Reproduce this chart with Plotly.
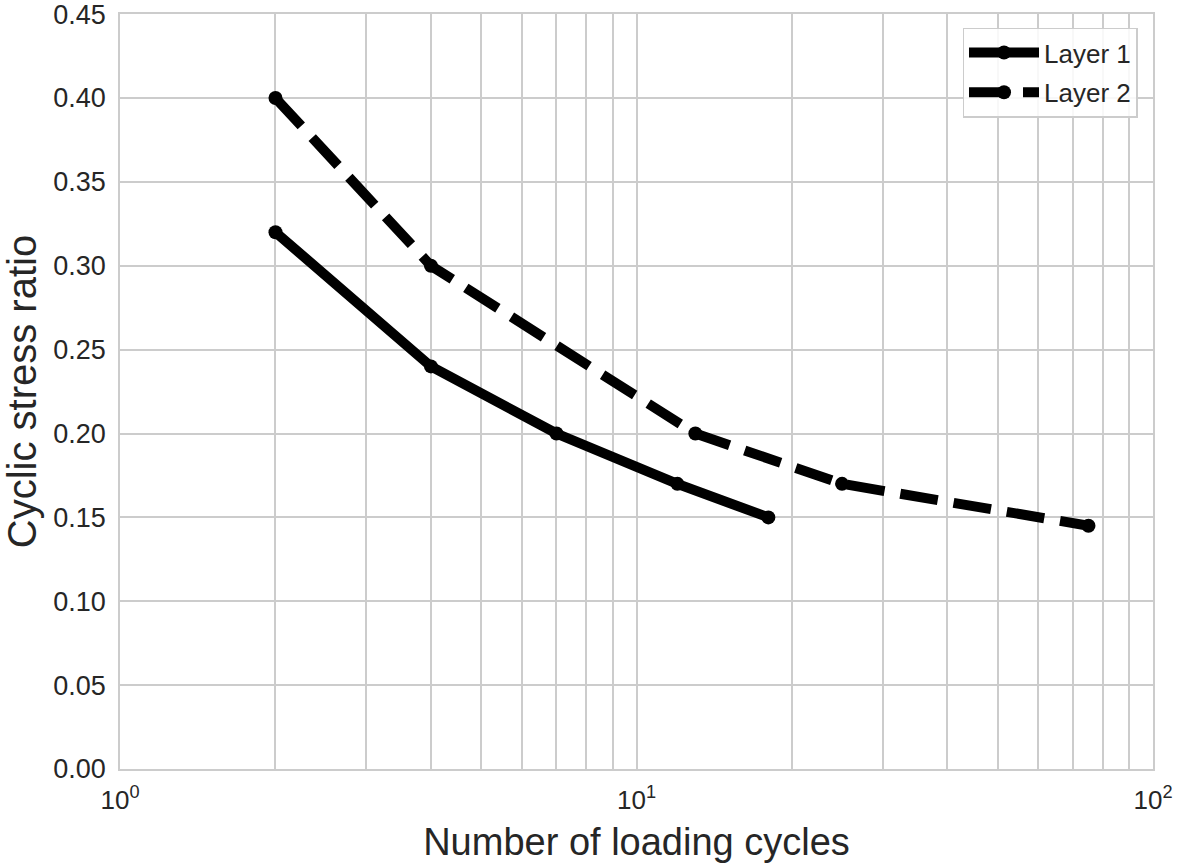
import plotly.graph_objects as go

layer1_cycles = [2, 4, 7, 12, 18]
layer1_csr = [0.32, 0.24, 0.20, 0.17, 0.15]
layer2_cycles = [2, 4, 13, 25, 75]
layer2_csr = [0.40, 0.30, 0.20, 0.17, 0.145]

x_major_vals = [1, 10, 100]
x_major_text = ["10<sup>0</sup>", "10<sup>1</sup>", "10<sup>2</sup>"]
x_minor_vals = [2, 3, 4, 5, 6, 7, 8, 9, 20, 30, 40, 50, 60, 70, 80, 90]
y_tickvals = [0.0, 0.05, 0.10, 0.15, 0.20, 0.25, 0.30, 0.35, 0.40, 0.45]

fig = go.Figure()
fig.add_trace(go.Scatter(
    x=layer1_cycles, y=layer1_csr, name="Layer 1", mode="lines+markers",
    legendgroup="l1",
    line=dict(color="black", width=10),
    marker=dict(color="black", size=14),
))
fig.add_trace(go.Scatter(
    x=layer2_cycles, y=layer2_csr, name="Layer 2", mode="lines+markers",
    legendgroup="l2",
    line=dict(color="black", width=10, dash="38px,16px"),
    marker=dict(color="black", size=14),
))

font_family = "Liberation Sans, Arial, sans-serif"
grid = "#cccccc"
fig.update_layout(
    width=1177, height=863,
    margin=dict(l=120, r=24, t=14, b=94, autoexpand=False),
    paper_bgcolor="white", plot_bgcolor="white",
    font=dict(family=font_family, color="#262626", size=26),
    showlegend=True,
    legend=dict(
        x=0.985, y=0.982, xanchor="right", yanchor="top",
        bgcolor="rgba(255,255,255,0.85)", bordercolor=grid, borderwidth=1.5,
        font=dict(size=26, color="#262626"),
        traceorder="grouped", tracegroupgap=3,
        itemwidth=70,
    ),
)
fig.update_xaxes(
    type="log", range=[0, 2],
    tickmode="array", tickvals=x_major_vals, ticktext=x_major_text, ticks="",
    ticklabelstandoff=7, ticklabeloverflow="allow",
    showgrid=True, gridcolor=grid, gridwidth=1.5,
    minor=dict(tickmode="array", tickvals=x_minor_vals, showgrid=True,
               gridcolor=grid, gridwidth=1.5, ticks=""),
    showline=True, linecolor=grid, linewidth=1.5, mirror=True,
    zeroline=False, automargin=False,
    tickfont=dict(size=26, color="#262626"),
    title=dict(text="Number of loading cycles", font=dict(size=38, color="#262626"), standoff=18),
)
fig.update_yaxes(
    range=[0, 0.4501],
    tickvals=y_tickvals, tickformat=".2f", ticks="",
    ticklabelstandoff=7, ticklabeloverflow="allow",
    showgrid=True, gridcolor=grid, gridwidth=1.5,
    showline=True, linecolor=grid, linewidth=1.5, mirror=True,
    zeroline=False, automargin=False,
    tickfont=dict(size=27, color="#262626"),
    title=dict(text="Cyclic stress ratio", font=dict(size=40, color="#262626"), standoff=4),
)

fig.write_html("out.html")
